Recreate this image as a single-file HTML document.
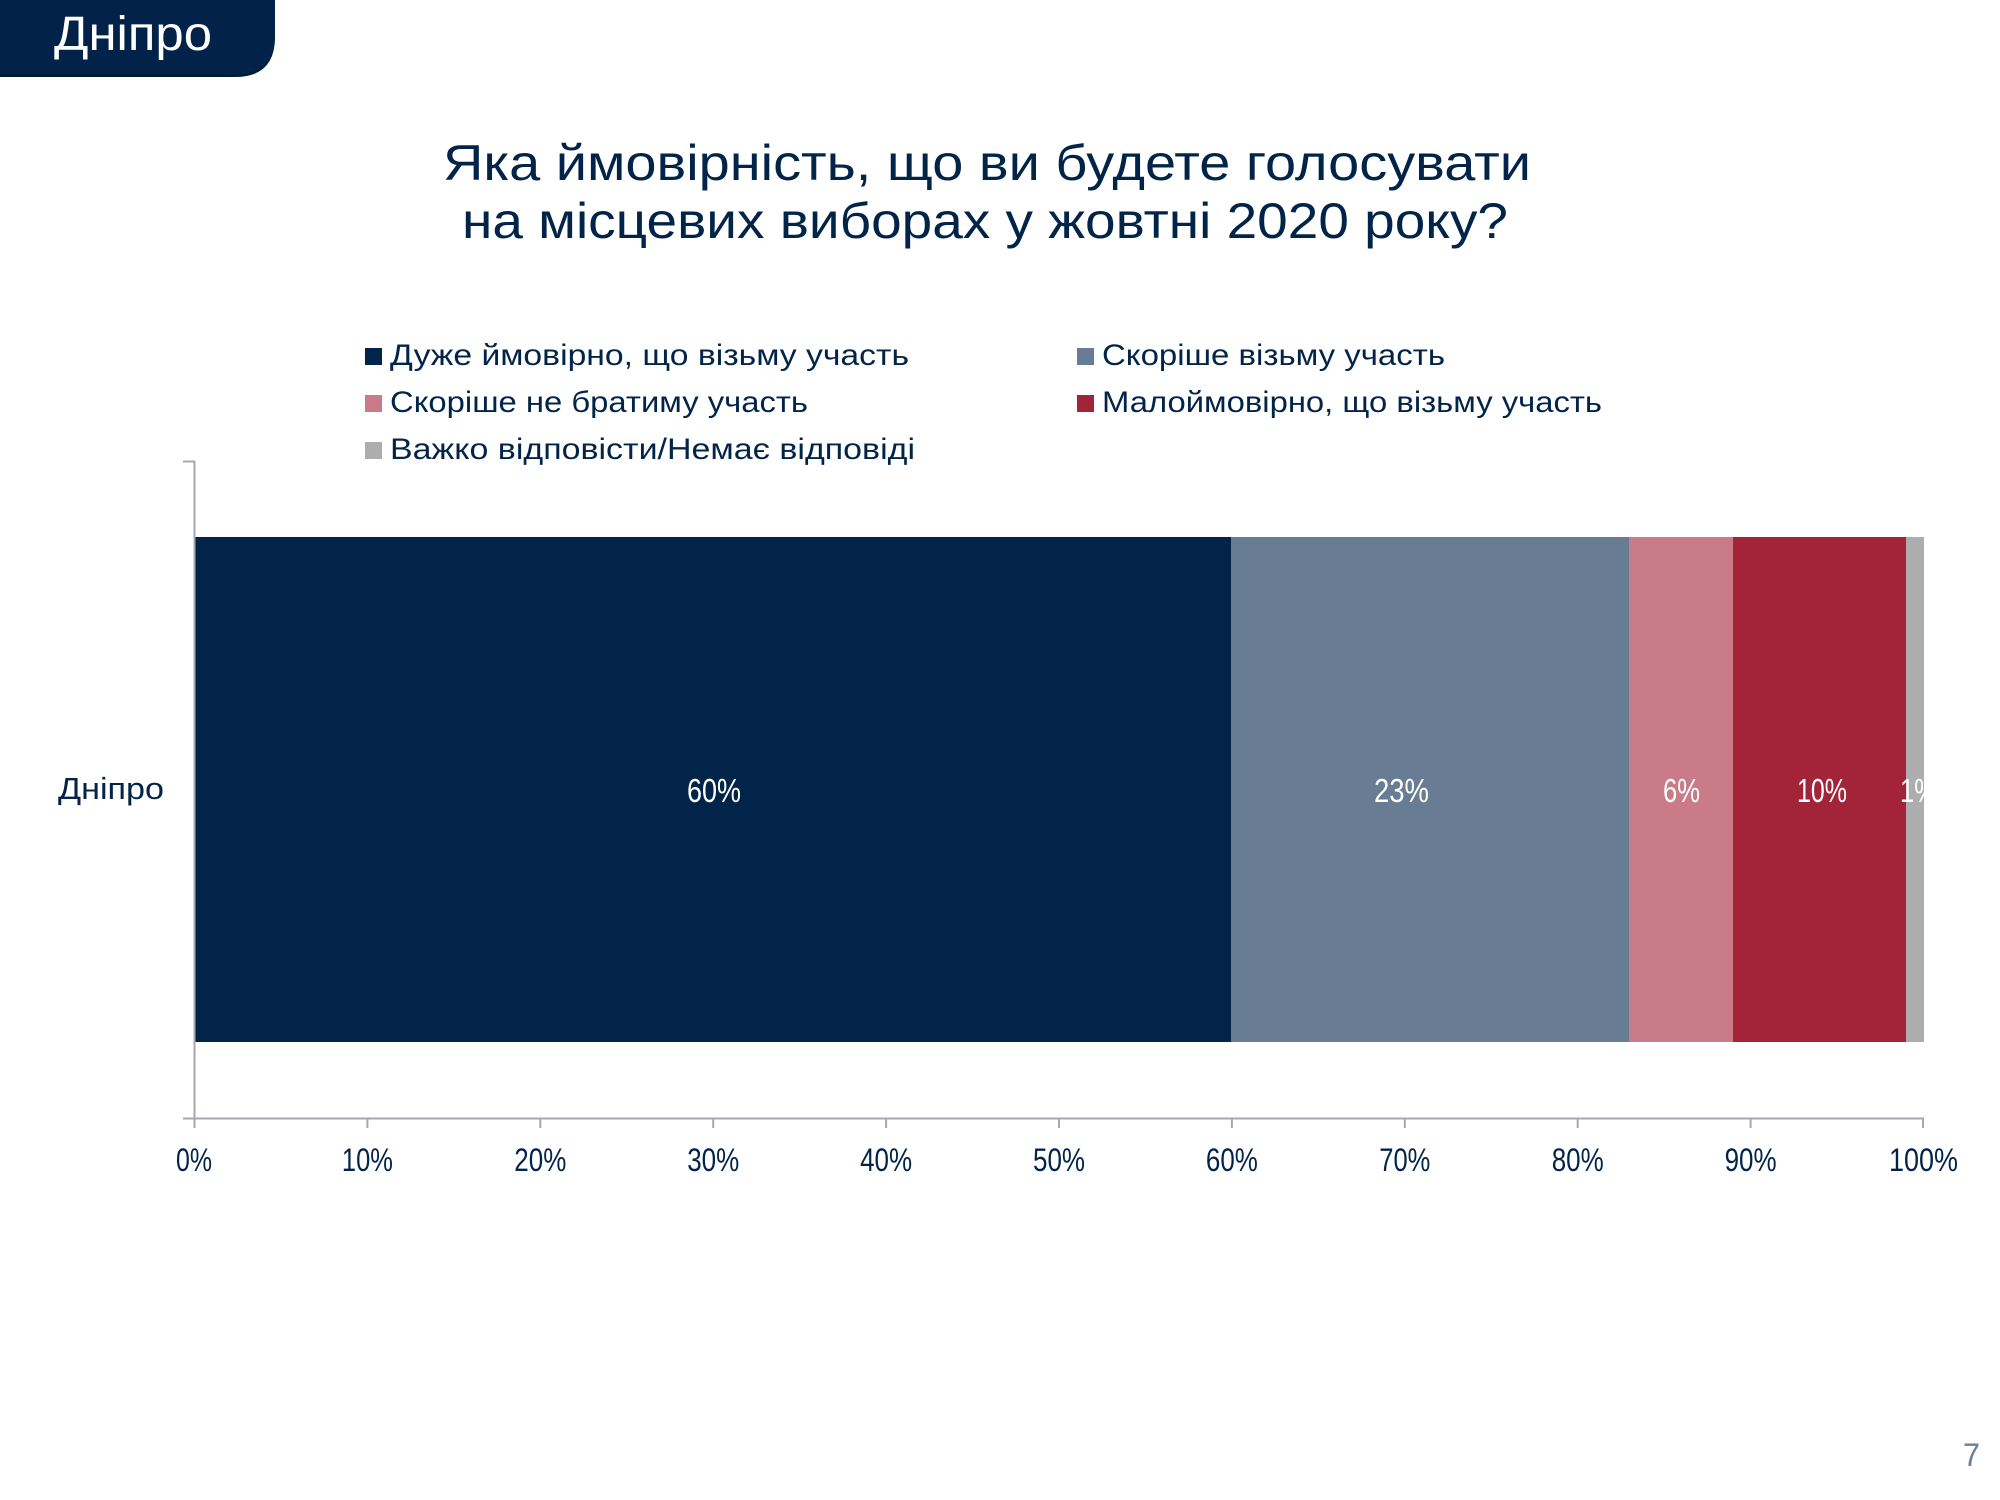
<!DOCTYPE html>
<html>
<head>
<meta charset="utf-8">
<style>
  html,body{margin:0;padding:0;background:#ffffff;}
  svg{display:block;}
  text{font-family:"Liberation Sans","DejaVu Sans",sans-serif;}
</style>
</head>
<body>
<svg width="2000" height="1500" viewBox="0 0 2000 1500" xmlns="http://www.w3.org/2000/svg">
  <defs>
    <clipPath id="plot"><rect x="194" y="500" width="1730" height="600"/></clipPath>
  </defs>
  <rect x="0" y="0" width="2000" height="1500" fill="#ffffff"/>

  <!-- Header tab -->
  <path d="M0,0 H275 V37 Q275,77 235,77 H0 Z" fill="#011a38"/>
  <path d="M0,0 H275 V35 Q275,74 236,74 H0 Z" fill="#022249"/>
  <text x="54" y="50" font-size="48" fill="#ffffff" textLength="158" lengthAdjust="spacingAndGlyphs">Дніпро</text>

  <!-- Title -->
  <text x="443" y="180" font-size="50" fill="#032449" textLength="1088" lengthAdjust="spacingAndGlyphs">Яка ймовірність, що ви будете голосувати</text>
  <text x="462" y="238" font-size="50" fill="#032449" textLength="1046" lengthAdjust="spacingAndGlyphs">на місцевих виборах у жовтні 2020 року?</text>

  <!-- Legend -->
  <rect x="365" y="348" width="17" height="17" fill="#032449"/>
  <text x="390" y="365" font-size="30" fill="#032449" textLength="519" lengthAdjust="spacingAndGlyphs">Дуже ймовірно, що візьму участь</text>
  <rect x="1077" y="348" width="17" height="17" fill="#687c93"/>
  <text x="1102" y="365" font-size="30" fill="#032449" textLength="343" lengthAdjust="spacingAndGlyphs">Скоріше візьму участь</text>

  <rect x="365" y="395" width="17" height="17" fill="#c97c87"/>
  <text x="390" y="412" font-size="30" fill="#032449" textLength="418" lengthAdjust="spacingAndGlyphs">Скоріше не братиму участь</text>
  <rect x="1077" y="395" width="17" height="17" fill="#a32439"/>
  <text x="1102" y="412" font-size="30" fill="#032449" textLength="500" lengthAdjust="spacingAndGlyphs">Малоймовірно, що візьму участь</text>

  <rect x="365" y="442" width="17" height="17" fill="#adadb0"/>
  <text x="390" y="459" font-size="30" fill="#032449" textLength="525" lengthAdjust="spacingAndGlyphs">Важко відповісти/Немає відповіді</text>

  <!-- Bars -->
  <rect x="195" y="537" width="1036" height="505" fill="#032449"/>
  <rect x="1231" y="537" width="398" height="505" fill="#687c93"/>
  <rect x="1629" y="537" width="104" height="505" fill="#c97c87"/>
  <rect x="1733" y="537" width="173" height="505" fill="#a32439"/>
  <rect x="1906" y="537" width="18" height="505" fill="#adadb0"/>

  <!-- Bar labels -->
  <g fill="#ffffff" font-size="33">
    <text x="687" y="802" textLength="54" lengthAdjust="spacingAndGlyphs">60%</text>
    <text x="1374" y="802" textLength="55" lengthAdjust="spacingAndGlyphs">23%</text>
    <text x="1663" y="802" textLength="37" lengthAdjust="spacingAndGlyphs">6%</text>
    <text x="1797" y="802" textLength="50" lengthAdjust="spacingAndGlyphs">10%</text>
    <text x="1900" y="802" clip-path="url(#plot)" textLength="37" lengthAdjust="spacingAndGlyphs">1%</text>
  </g>

  <!-- Category label -->
  <text x="58" y="799" font-size="31" fill="#032449" textLength="106" lengthAdjust="spacingAndGlyphs">Дніпро</text>

  <!-- Axes -->
  <g stroke="#a5a8b0" stroke-width="2" fill="none">
    <line x1="194.5" y1="461" x2="194.5" y2="1128"/>
    <line x1="183" y1="461.5" x2="195" y2="461.5"/>
    <line x1="183" y1="1118.5" x2="1924" y2="1118.5"/>
    <line x1="367.4" y1="1118" x2="367.4" y2="1128"/>
    <line x1="540.3" y1="1118" x2="540.3" y2="1128"/>
    <line x1="713.2" y1="1118" x2="713.2" y2="1128"/>
    <line x1="886.1" y1="1118" x2="886.1" y2="1128"/>
    <line x1="1059" y1="1118" x2="1059" y2="1128"/>
    <line x1="1231.9" y1="1118" x2="1231.9" y2="1128"/>
    <line x1="1404.8" y1="1118" x2="1404.8" y2="1128"/>
    <line x1="1577.7" y1="1118" x2="1577.7" y2="1128"/>
    <line x1="1750.6" y1="1118" x2="1750.6" y2="1128"/>
    <line x1="1923" y1="1118" x2="1923" y2="1128"/>
  </g>

  <!-- Tick labels -->
  <g fill="#032449" font-size="32" text-anchor="middle">
    <text x="194" y="1171" textLength="36" lengthAdjust="spacingAndGlyphs">0%</text>
    <text x="367.4" y="1171" textLength="51" lengthAdjust="spacingAndGlyphs">10%</text>
    <text x="540.3" y="1171" textLength="52" lengthAdjust="spacingAndGlyphs">20%</text>
    <text x="713.2" y="1171" textLength="52" lengthAdjust="spacingAndGlyphs">30%</text>
    <text x="886.1" y="1171" textLength="52" lengthAdjust="spacingAndGlyphs">40%</text>
    <text x="1059" y="1171" textLength="52" lengthAdjust="spacingAndGlyphs">50%</text>
    <text x="1231.9" y="1171" textLength="52" lengthAdjust="spacingAndGlyphs">60%</text>
    <text x="1404.8" y="1171" textLength="51" lengthAdjust="spacingAndGlyphs">70%</text>
    <text x="1577.7" y="1171" textLength="52" lengthAdjust="spacingAndGlyphs">80%</text>
    <text x="1750.6" y="1171" textLength="52" lengthAdjust="spacingAndGlyphs">90%</text>
    <text x="1923.5" y="1171" textLength="69" lengthAdjust="spacingAndGlyphs">100%</text>
  </g>

  <!-- Page number -->
  <text x="1963" y="1466" font-size="32" fill="#6b7f9a" textLength="17" lengthAdjust="spacingAndGlyphs">7</text>
</svg>
</body>
</html>
